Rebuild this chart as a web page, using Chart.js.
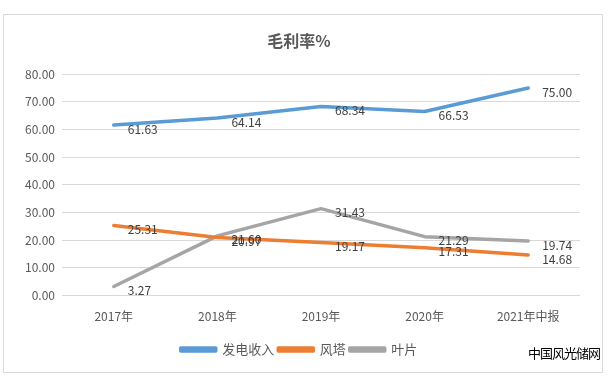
<!DOCTYPE html>
<html><head><meta charset="utf-8">
<script src="https://cdn.jsdelivr.net/npm/chart.js@4/dist/chart.umd.min.js"></script>
<style>
html,body{margin:0;padding:0;background:#fff;width:616px;height:383px;overflow:hidden;}
#box{position:absolute;left:3px;top:14px;width:600px;height:359px;border:1px solid #d9d9d9;box-sizing:border-box;}
#wm{position:absolute;left:528px;top:343px;font:13px "Noto Sans CJK SC",sans-serif;color:#000;letter-spacing:-1px;}
</style></head>
<body>
<div id="box"><canvas id="c" width="598" height="357"></canvas></div>
<div id="wm">中国风光储网</div>
<script>
const categories = ["2017年","2018年","2019年","2020年","2021年中报"];
const powerRevenue = [61.63,64.14,68.34,66.53,75.00];
const towers = [25.31,20.97,19.17,17.31,14.68];
const blades = [3.27,21.60,31.43,21.29,19.74];
const seriesNames = ["发电收入","风塔","叶片"];
const FONT = '"Noto Sans CJK SC", "Noto Sans", sans-serif';

const labelPlugin = {
  id:'valLabels',
  afterDatasetsDraw(chart){
    const ctx = chart.ctx;
    ctx.save();
    ctx.font = '12px ' + FONT;
    ctx.fillStyle = '#404040';
    ctx.textAlign = 'left';
    ctx.textBaseline = 'middle';
    chart.data.datasets.forEach((ds,i)=>{
      const meta = chart.getDatasetMeta(i);
      meta.data.forEach((pt,j)=>{
        ctx.fillText(ds.data[j].toFixed(2), pt.x + 14, pt.y + 4);
      });
    });
    ctx.restore();
  }
};

new Chart(document.getElementById('c'), {
  type:'line',
  data:{
    labels: categories,
    datasets:[
      {label:seriesNames[0], data:powerRevenue, borderColor:'#5b9bd5', backgroundColor:'#5b9bd5'},
      {label:seriesNames[1], data:towers, borderColor:'#ed7d31', backgroundColor:'#ed7d31'},
      {label:seriesNames[2], data:blades, borderColor:'#a5a5a5', backgroundColor:'#a5a5a5'}
    ]
  },
  options:{
    responsive:false,
    animation:false,
    devicePixelRatio:1,
    elements:{line:{borderWidth:3.5,tension:0,borderCapStyle:'round',borderJoinStyle:'round'},point:{radius:0,hoverRadius:0}},
    layout:{padding:{left:14,right:22,top:0,bottom:6}},
    plugins:{
      title:{display:true,text:'毛利率%',color:'#595959',font:{family:FONT,size:16,weight:'bold'},padding:{top:16,bottom:24}},
      legend:{position:'bottom',labels:{color:'#595959',font:{family:FONT,size:13},boxWidth:35,boxHeight:3,padding:4}},
      tooltip:{enabled:false}
    },
    scales:{
      x:{offset:true,grid:{display:false},border:{display:false},
         afterFit:(s)=>{s.height += 9;},
         ticks:{color:'#595959',font:{family:FONT,size:12},padding:6}},
      y:{min:0,max:80,grid:{color:'#d9d9d9',drawTicks:false},border:{display:false},
         ticks:{stepSize:10,color:'#595959',font:{family:FONT,size:12},padding:7,callback:v=>Number(v).toFixed(2)}}
    }
  },
  plugins:[labelPlugin]
});
</script>
</body></html>
